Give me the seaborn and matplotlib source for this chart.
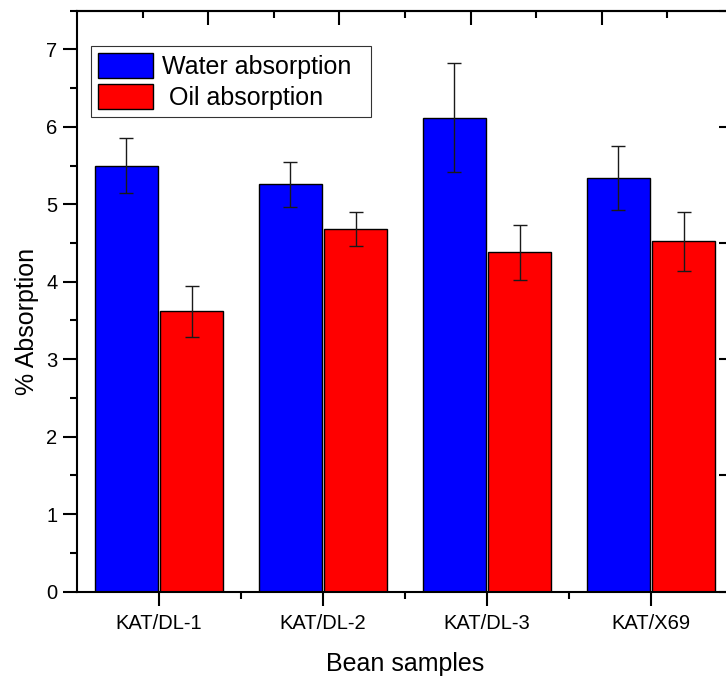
import numpy as np
import pandas as pd
import matplotlib
matplotlib.use("Agg")
import matplotlib.pyplot as plt
from matplotlib.patches import Patch
from matplotlib.ticker import MultipleLocator, FixedLocator
import seaborn as sns

# values
samples = ["KAT/DL-1", "KAT/DL-2", "KAT/DL-3", "KAT/X69"]
water = [5.50, 5.26, 6.12, 5.34]
water_err = [0.36, 0.29, 0.70, 0.41]
oil = [3.62, 4.68, 4.38, 4.52]
oil_err = [0.33, 0.22, 0.355, 0.385]
series = ["Water absorption", " Oil absorption"]
colors = ["#0000FF", "#FF0000"]

df = pd.DataFrame({
    "sample": samples * 2,
    "value": water + oil,
    "kind": [series[0]] * 4 + [series[1]] * 4,
})
errs = [water_err, oil_err]

sns.set_style("ticks")
plt.rcParams["font.family"] = ["Liberation Sans", "DejaVu Sans"]
plt.rcParams["text.color"] = "black"
plt.rcParams["axes.labelcolor"] = "black"
plt.rcParams["xtick.color"] = "black"
plt.rcParams["ytick.color"] = "black"

fig = plt.figure(figsize=(7.26, 6.77), dpi=100)
ax = fig.add_axes([77 / 726, 1 - 591.5 / 677, 656 / 726, (591.5 - 10.7) / 677])

sns.barplot(data=df, x="sample", y="value", hue="kind", palette=colors,
            width=0.8, gap=0.04, errorbar=None, edgecolor="black",
            linewidth=1.0, saturation=1, legend=False, ax=ax)

# error bars on top of each bar
for cont, e in zip(ax.containers, errs):
    xs = [b.get_x() + b.get_width() / 2 for b in cont]
    hs = [b.get_height() for b in cont]
    ax.errorbar(xs, hs, yerr=e, fmt="none", ecolor="#1a1a1a",
                elinewidth=1.0, capsize=5, capthick=1.0, zorder=5)

ax.set_xlim(-0.5, 3.5)
ax.set_ylim(0, 7.5)
ax.yaxis.set_major_locator(MultipleLocator(1))
ax.yaxis.set_minor_locator(MultipleLocator(0.5))
ax.xaxis.set_minor_locator(FixedLocator([0.5, 1.5, 2.5]))

for s in ax.spines.values():
    s.set_linewidth(1.5)
    s.set_color("black")

ax.tick_params(axis="both", which="major", direction="out", length=10,
               width=1.5, labelsize=14.5, colors="black")
ax.tick_params(axis="both", which="minor", direction="out", length=5,
               width=1.5)
ax.tick_params(axis="x", which="major", pad=6)
ax.tick_params(axis="y", which="major", pad=4)

ax.set_xlabel("Bean samples", fontsize=18, labelpad=14)
ax.set_ylabel("% Absorption", fontsize=18)
ax.yaxis.set_label_coords(-0.058, 0.465)

# top axis ticks (inward, no labels)
top = ax.secondary_xaxis("top", functions=(lambda x: (x + 0.5) * 2.5,
                                           lambda x: x / 2.5 - 0.5))
top.xaxis.set_major_locator(FixedLocator([2, 4, 6, 8]))
top.xaxis.set_minor_locator(FixedLocator([1, 3, 5, 7, 9]))
top.tick_params(which="major", direction="in", length=10, width=1.5,
                labeltop=False)
top.tick_params(which="minor", direction="in", length=5, width=1.5)
top.spines["top"].set_linewidth(1.5)

# right axis ticks (inward, no labels)
right = ax.secondary_yaxis("right")
right.yaxis.set_major_locator(MultipleLocator(1.5))
right.tick_params(which="major", direction="in", length=10, width=1.5,
                  labelright=False)
right.spines["right"].set_linewidth(1.5)

handles = [Patch(facecolor=c, edgecolor="black", linewidth=1.0) for c in colors]
leg = ax.legend(handles, series, loc="upper left",
                bbox_to_anchor=(91 / 726, 1 - 116 / 677, 280 / 726, 70 / 677),
                bbox_transform=fig.transFigure, borderaxespad=0, mode="expand",
                fontsize=18, frameon=True, fancybox=False,
                handlelength=2.2, handleheight=1.15, handletextpad=0.35,
                labelspacing=0.2, borderpad=0.28)
leg.get_frame().set_edgecolor("black")
leg.get_frame().set_linewidth(0.8)

fig.savefig("out.png", dpi=100)
